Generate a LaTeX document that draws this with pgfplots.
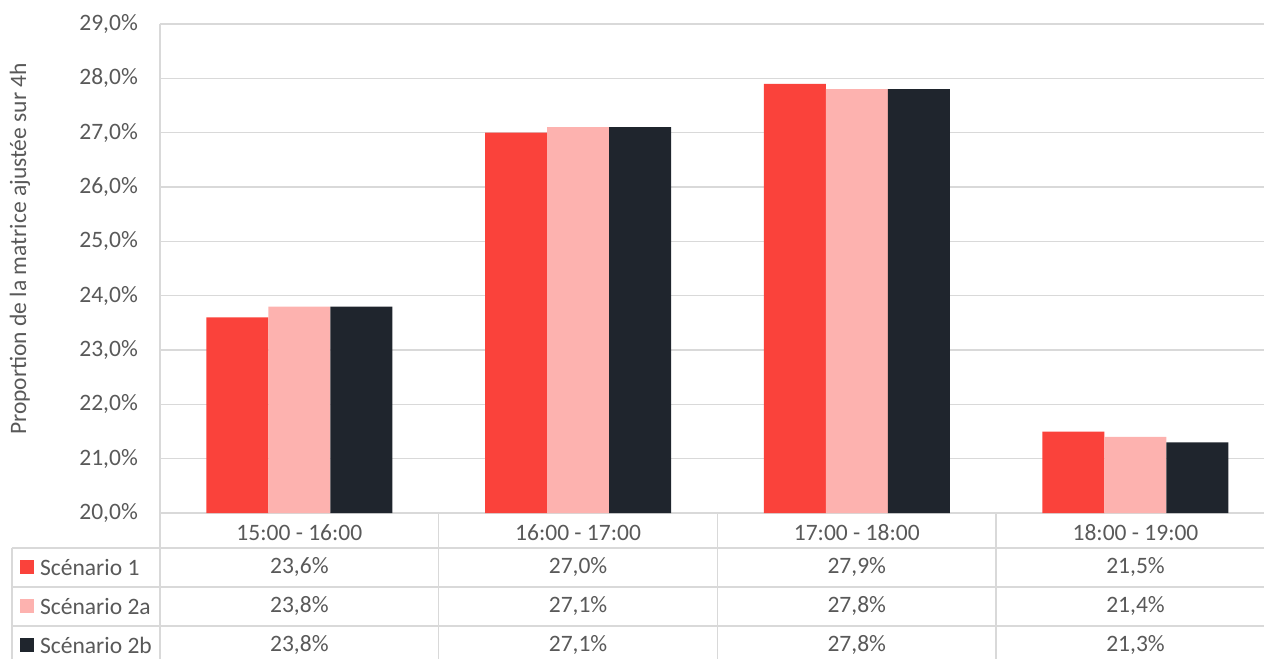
\documentclass[border=0pt]{standalone}
\usepackage{pgfplots}
\pgfplotsset{compat=1.18}
\usepackage{fontspec}
\setmainfont{Carlito}
\definecolor{sc1}{HTML}{FA423B}
\definecolor{sc2a}{HTML}{FDB2AF}
\definecolor{sc2b}{HTML}{1F252D}
\definecolor{txt}{HTML}{595959}
\definecolor{gridc}{HTML}{D9D9D9}
\begin{document}
\fontsize{23.6}{28}\selectfont
\begin{tikzpicture}
\useasboundingbox (-160bp,-146bp) rectangle (1104bp,513bp);
\begin{axis}[
    at={(0,0)}, anchor=south west,
    scale only axis, width=1104bp, height=489bp,
    xmin=-0.5, xmax=3.461,
    ymin=20, ymax=29,
    ytick={20,21,...,29},
    xtick={0,1,2,3},
    xticklabels={15:00 - 16:00, 16:00 - 17:00, 17:00 - 18:00, 18:00 - 19:00},
    xticklabel style={anchor=base, inner sep=0pt, yshift=-27bp, text=txt},
    yticklabel style={anchor=east, inner sep=0pt, xshift=-22bp, text=txt},
    yticklabel={\pgfmathprintnumber{\tick}\%},
    /pgf/number format/.cd, fixed, fixed zerofill, precision=1, use comma, assume math mode=true,
    /pgfplots/.cd,
    major tick length=0pt,
    ymajorgrids,
    major grid style={gridc, line width=1.3bp},
    axis line style={draw=none},
    ybar=0pt, bar width=62bp,
    clip mode=individual,
]
\addplot[fill=sc1, draw=none] coordinates {(0,23.6) (1,27.0) (2,27.9) (3,21.5)};
\addplot[fill=sc2a, draw=none] coordinates {(0,23.8) (1,27.1) (2,27.8) (3,21.4)};
\addplot[fill=sc2b, draw=none] coordinates {(0,23.8) (1,27.1) (2,27.8) (3,21.3)};

% data table grid
\draw[gridc, line width=1.3bp] (axis cs:-0.5,29) -- (axis cs:-0.5,17.2);
\draw[gridc, line width=1.3bp] (axis cs:0.5,20) -- (axis cs:0.5,17.2);
\draw[gridc, line width=1.3bp] (axis cs:1.5,20) -- (axis cs:1.5,17.2);
\draw[gridc, line width=1.3bp] (axis cs:2.5,20) -- (axis cs:2.5,17.2);
\draw[gridc, line width=1.3bp] ([xshift=-148bp]axis cs:-0.5,19.356) -- (axis cs:3.6,19.356);
\draw[gridc, line width=1.3bp] ([xshift=-148bp]axis cs:-0.5,18.638) -- (axis cs:3.6,18.638);
\draw[gridc, line width=1.3bp] ([xshift=-148bp]axis cs:-0.5,17.920) -- (axis cs:3.6,17.920);
\draw[gridc, line width=1.3bp] ([xshift=-148bp]axis cs:-0.5,19.356) -- ([xshift=-148bp]axis cs:-0.5,17.2);

% row labels with legend keys
\fill[sc1]  ([xshift=-140bp,yshift=-7bp]axis cs:-0.5,19.006) rectangle ++(14bp,14bp);
\fill[sc2a] ([xshift=-140bp,yshift=-7bp]axis cs:-0.5,18.288) rectangle ++(14bp,14bp);
\fill[sc2b] ([xshift=-140bp,yshift=-7bp]axis cs:-0.5,17.570) rectangle ++(14bp,14bp);
\node[anchor=west, text=txt, inner sep=0pt] at ([xshift=-120bp]axis cs:-0.5,19.006) {Scénario 1};
\node[anchor=west, text=txt, inner sep=0pt] at ([xshift=-120bp]axis cs:-0.5,18.288) {Scénario 2a};
\node[anchor=west, text=txt, inner sep=0pt] at ([xshift=-120bp]axis cs:-0.5,17.570) {Scénario 2b};

% table values
\node[text=txt] at (axis cs:0,19.006) {23,6\%};
\node[text=txt] at (axis cs:1,19.006) {27,0\%};
\node[text=txt] at (axis cs:2,19.006) {27,9\%};
\node[text=txt] at (axis cs:3,19.006) {21,5\%};
\node[text=txt] at (axis cs:0,18.288) {23,8\%};
\node[text=txt] at (axis cs:1,18.288) {27,1\%};
\node[text=txt] at (axis cs:2,18.288) {27,8\%};
\node[text=txt] at (axis cs:3,18.288) {21,4\%};
\node[text=txt] at (axis cs:0,17.570) {23,8\%};
\node[text=txt] at (axis cs:1,17.570) {27,1\%};
\node[text=txt] at (axis cs:2,17.570) {27,8\%};
\node[text=txt] at (axis cs:3,17.570) {21,3\%};

\node[rotate=90, text=txt] at ([xshift=-140bp]axis cs:-0.5,24.86) {Proportion de la matrice ajustée sur 4h};
\end{axis}
\end{tikzpicture}
\end{document}
